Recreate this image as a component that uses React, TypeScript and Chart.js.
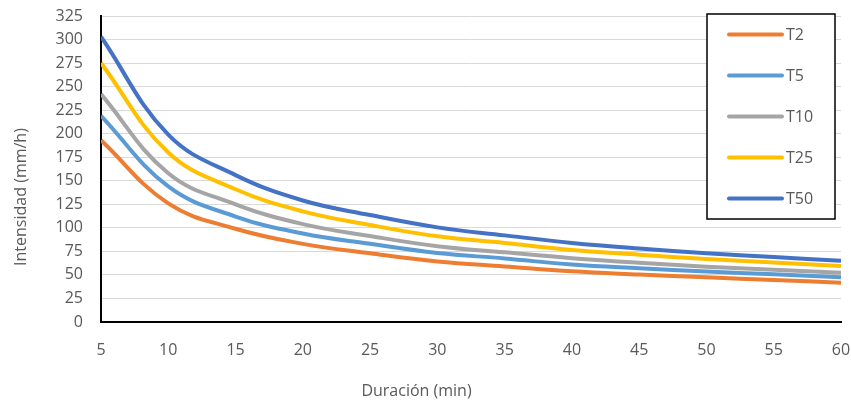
import React, { useEffect, useRef } from "react";
import { Chart, registerables } from "chart.js";

Chart.register(...registerables);

const durations = [5, 10, 15, 20, 25, 30, 35, 40, 45, 50, 55, 60];
const seriesLabels = ["T2", "T5", "T10", "T25", "T50"];
const seriesColors = ["#ED7D31", "#5B9BD5", "#A5A5A5", "#FFC000", "#4472C4"];
const t2 = [193, 126, 99, 83, 73, 64.3, 59, 53.8, 50.4, 47.4, 44.6, 41.8];
const t5 = [219, 144, 112, 94, 83, 73.3, 67.5, 61, 57, 53.6, 50.6, 47.5];
const t10 = [242, 158, 125, 104, 91.3, 80.5, 74, 67.8, 62.9, 58.8, 55.4, 52.4];
const t25 = [275, 180, 141, 117.5, 103, 91, 84, 76.5, 71.5, 67, 63.3, 59.5];
const t50 = [303, 199, 156, 129, 113.6, 100.5, 92, 84, 78, 73, 69, 65];
const seriesValues = [t2, t5, t10, t25, t50];

const xTitle = "Duración (min)";
const yTitle = "Intensidad (mm/h)";
const FONT = "'Open Sans', 'Liberation Sans', sans-serif";
const TEXT = "#595959";

const overlayPlugin = {
  id: "overlay",
  afterDraw(chart: any) {
    const ctx = chart.ctx;
    const area = chart.chartArea;
    ctx.save();
    // axis titles
    ctx.fillStyle = TEXT;
    ctx.font = `16px ${FONT}`;
    ctx.textAlign = "center";
    ctx.textBaseline = "middle";
    ctx.fillText(xTitle, chart.width / 2 - 9, chart.height - 11);
    ctx.save();
    ctx.translate(21, chart.height / 2 - 4);
    ctx.rotate(-Math.PI / 2);
    ctx.fillText(yTitle, 0, 0);
    ctx.restore();

    // legend box
    const bx = area.right - 134;
    const by = area.top - 2;
    const bw = 128;
    const bh = 205;
    ctx.fillStyle = "#ffffff";
    ctx.fillRect(bx, by, bw, bh);
    ctx.strokeStyle = "#000000";
    ctx.lineWidth = 1.5;
    ctx.strokeRect(bx, by, bw, bh);
    chart.data.datasets.forEach((ds: any, i: number) => {
      const y = by + 20.5 + i * 41;
      ctx.strokeStyle = ds.borderColor;
      ctx.lineWidth = 4;
      ctx.lineCap = "round";
      ctx.beginPath();
      ctx.moveTo(bx + 22, y);
      ctx.lineTo(bx + 75, y);
      ctx.stroke();
      ctx.fillStyle = TEXT;
      ctx.font = `16px ${FONT}`;
      ctx.textAlign = "left";
      ctx.textBaseline = "middle";
      ctx.fillText(ds.label, bx + 79, y + 1);
    });
    ctx.restore();
  },
};

export default function App() {
  const ref = useRef<HTMLCanvasElement | null>(null);
  useEffect(() => {
    if (!ref.current) return;
    const chart = new Chart(ref.current, {
      type: "line",
      data: {
        datasets: seriesLabels.map((label, i) => ({
          label,
          data: durations.map((d, j) => ({ x: d, y: seriesValues[i][j] })),
          borderColor: seriesColors[i],
          backgroundColor: seriesColors[i],
          borderWidth: 4,
          pointRadius: 0,
          tension: 0.4,
          fill: false,
        })),
      },
      options: {
        animation: false,
        responsive: false,
        maintainAspectRatio: false,
        layout: { padding: { left: 0, top: 16, right: 10, bottom: 0 } },
        plugins: { legend: { display: false }, tooltip: { enabled: false }, title: { display: false } },
        scales: {
          x: {
            type: "linear",
            min: 5,
            max: 60,
            ticks: { stepSize: 5, color: TEXT, font: { family: FONT, size: 16 }, padding: 19, maxRotation: 0 },
            grid: { display: false, drawTicks: false },
            border: { display: true, color: "#000000", width: 2 },
            afterFit: (s: any) => { s.height = 80; s.paddingLeft = 0; s.paddingRight = 0; },
          },
          y: {
            min: 0,
            max: 325,
            ticks: { stepSize: 25, color: TEXT, font: { family: FONT, size: 16 }, padding: 18 },
            grid: { color: "#D9D9D9", lineWidth: 1, drawTicks: false },
            border: { display: true, color: "#000000", width: 2 },
            afterFit: (s: any) => { s.width = 101; s.paddingTop = 0; s.paddingBottom = 0; },
          },
        },
      },
      plugins: [overlayPlugin],
    } as any);
    return () => chart.destroy();
  }, []);
  return (
    <div style={{ position: "absolute", left: 0, top: 0, width: 851, height: 402, background: "#fff" }}>
      <canvas ref={ref} width={851} height={402} style={{ width: 851, height: 402 }} />
    </div>
  );
}
